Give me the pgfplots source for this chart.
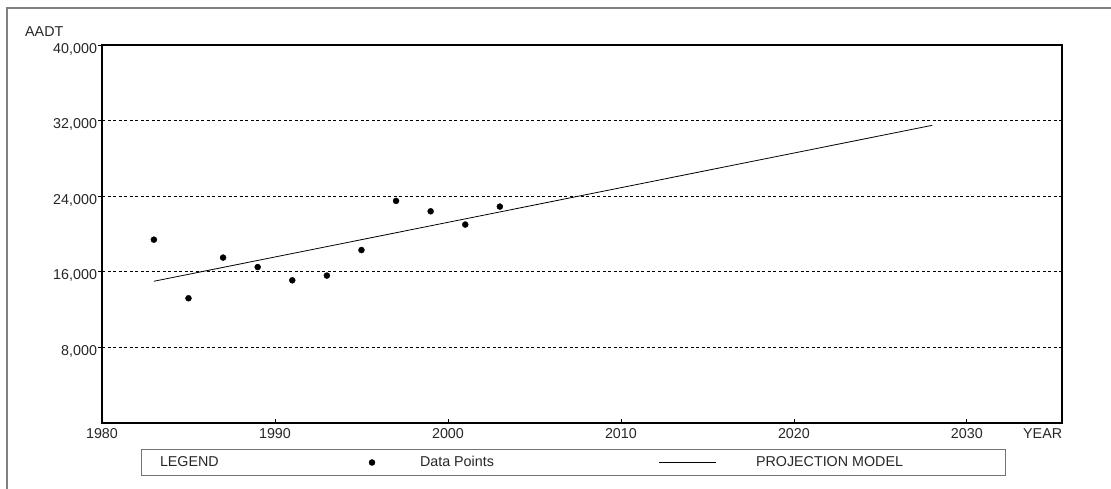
\documentclass[border=0pt]{standalone}
\usepackage{fontspec}
\setmainfont{Liberation Sans}
\usepackage{pgfplots}
\pgfplotsset{compat=1.18}
\begin{document}
\begin{tikzpicture}[x=1bp,y=1bp,font=\fontsize{14.3bp}{17bp}\selectfont]
\useasboundingbox (0,0) rectangle (1111,489);
\draw[black!50, line width=2bp] (7,-5) -- (7,481) -- (1116,481);
\node[anchor=west, inner sep=0pt, text=black!85] at (25,457.3) {AADT};
\node[anchor=west, inner sep=0pt, text=black!85] at (1023,55) {YEAR};
\begin{axis}[
  at={(102bp,66bp)}, anchor=south west, scale only axis,
  width=960bp, height=378bp,
  xmin=1980, xmax=2035.5, ymin=0, ymax=40000,
  xtick={1980,1990,2000,2010,2020,2030},
  ytick={8000,16000,24000,32000,40000},
  xtick pos=left, ytick pos=left,
  xtick align=inside, ytick align=outside,
  major tick length=4bp,
  ymajorgrids,
  major grid style={black, line width=0.7bp, dash pattern=on 3bp off 2.5bp},
  axis line style={black, line width=1.1bp},
  tick style={black, line width=0.8bp},
  /pgf/number format/assume math mode=true,
  scaled y ticks=false,
  xticklabel style={text=black!85, yshift=-2.5bp, /pgf/number format/1000 sep={}},
  yticklabel style={text=black!85, xshift=2.5bp, yshift=-4bp, /pgf/number format/1000 sep={,}},
  legend columns=3,
  legend cell align=left,
  legend style={at={(0.490625,-0.1045)}, anchor=center, draw=black!55,
    inner xsep=0bp, inner ysep=0bp, column sep=0bp, text=black!85,
    nodes={inner xsep=0bp, inner ysep=0bp, minimum height=26bp}},
]
\addlegendimage{legend image code/.code={\path[draw=none,fill=none] (0bp,0bp) -- (19bp,0bp);}}
\addlegendentry{\makebox[202bp][l]{LEGEND}}
\addlegendimage{legend image code/.code={\path[draw=none,fill=none] (0bp,0bp) -- (20bp,0bp); \fill[black] (10bp,0bp) circle[radius=3bp];}}
\addlegendentry{\makebox[267bp][l]{\hspace{38bp}Data Points}}
\addlegendimage{legend image code/.code={\path[draw=none,fill=none] (0bp,0bp) -- (77bp,0bp); \draw[black, line width=0.8bp] (10bp,0bp) -- (67bp,0bp);}}
\addlegendentry{\makebox[279bp][l]{\hspace{30bp}PROJECTION MODEL}}

\addplot[only marks, mark=*, mark size=3bp, black, forget plot] coordinates {
  (1983,19400) (1985,13200) (1987,17500) (1989,16500) (1991,15100)
  (1993,15600) (1995,18300) (1997,23500) (1999,22400) (2001,21000) (2003,22900)
};
\addplot[black, line width=0.8bp, forget plot] coordinates {(1983,15000) (2028,31500)};
\end{axis}
\end{tikzpicture}
\end{document}
